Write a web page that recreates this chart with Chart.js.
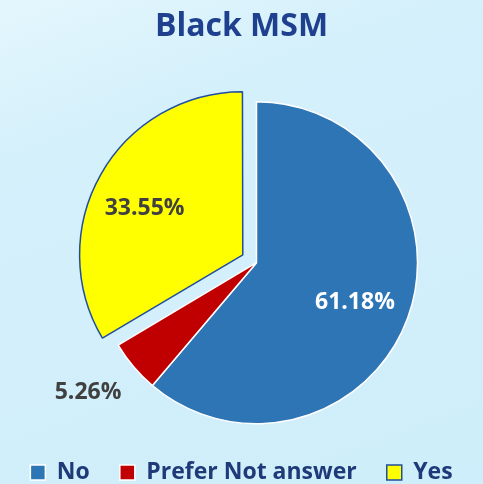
<!DOCTYPE html>
<html>
<head>
<meta charset="utf-8">
<script src="https://cdn.jsdelivr.net/npm/chart.js@4"></script>
<style>
  html, body { margin: 0; padding: 0; }
  body {
    width: 483px; height: 484px; overflow: hidden;
    background: linear-gradient(160deg, #e4f6fd 0%, #d4f0fb 25%, #d2effb 60%, #cdeefa 100%);
  }
  #wrap { position: relative; width: 483px; height: 484px; }
</style>
</head>
<body>
<div id="wrap"><canvas id="pie"></canvas></div>
<script>
  // ── data ──
  const categories = ['No', 'Prefer Not answer', 'Yes'];
  const shares = [61.18, 5.26, 33.55];
  const sliceColors = ['#2E75B6', '#C00000', '#FFFF00'];
  const sliceBorders = ['#ffffff', '#ffffff', '#1F4EA0'];

  // label placement: fraction of radius + small angle nudge (deg), colours
  const labelRadius = [0.66, 1.32, 0.66];
  const labelNudge = [2, 2.7, -4.5];
  const labelColors = ['#ffffff', '#404040', '#404040'];

  const FONT = "'Open Sans', sans-serif";

  // ── empty box on the left so the pie sits right of the title/legend centre ──
  const leftSpacer = {
    id: 'leftSpacer',
    beforeInit(chart) {
      Chart.layouts.addBox(chart, {
        position: 'left',
        weight: 0,
        fullSize: false,
        options: {},
        width: 0, height: 0, left: 0, top: 0, right: 0, bottom: 0,
        isHorizontal() { return false; },
        update(maxWidth, maxHeight) { this.width = 30; this.height = maxHeight; },
        draw() {}
      });
    }
  };

  // ── slice percentage labels ──
  const sliceLabels = {
    id: 'sliceLabels',
    afterDatasetsDraw(chart) {
      const ctx = chart.ctx;
      const meta = chart.getDatasetMeta(0);
      meta.data.forEach((arc, i) => {
        const p = arc.getProps(['x', 'y', 'startAngle', 'endAngle', 'outerRadius', 'circumference']);
        const mid = (p.startAngle + p.endAngle) / 2;
        // same shift Chart.js uses for offset slices
        const off = (arc.options.offset || 0) / 4;
        const fix = 1 - Math.sin(Math.min(Math.PI, p.circumference || 0));
        const shift = off + off * fix;
        const cx = p.x + Math.cos(mid) * shift;
        const cy = p.y + Math.sin(mid) * shift;
        const a = mid + labelNudge[i] * Math.PI / 180;
        const r = p.outerRadius * labelRadius[i];
        ctx.save();
        ctx.font = "bold 23px " + FONT;
        ctx.fillStyle = labelColors[i];
        ctx.textAlign = 'center';
        ctx.textBaseline = 'middle';
        ctx.fillText(shares[i].toFixed(2) + '%', cx + Math.cos(a) * r, cy + Math.sin(a) * r);
        ctx.restore();
      });
    }
  };

  new Chart(document.getElementById('pie'), {
    type: 'pie',
    data: {
      labels: categories,
      datasets: [{
        data: shares,
        backgroundColor: sliceColors,
        borderColor: sliceBorders,
        borderWidth: 1.5,
        offset: [0, 0, 63],
      }]
    },
    options: {
      responsive: true,
      maintainAspectRatio: false,
      animation: false,
      radius: 161,
      layout: { padding: { left: 0, right: 0, top: 0, bottom: -10 } },
      plugins: {
        title: {
          display: true,
          text: 'Black MSM',
          color: '#1F3F8F',
          font: { family: FONT, size: 32, weight: 'bold' },
          padding: { top: 8, bottom: 48 }
        },
        legend: {
          position: 'bottom',
          labels: {
            color: '#1F3A78',
            font: { family: FONT, size: 23, weight: 'bold' },
            boxWidth: 15,
            boxHeight: 15,
            padding: 30
          }
        },
        tooltip: { enabled: false }
      }
    },
    plugins: [leftSpacer, sliceLabels]
  });
</script>
</body>
</html>
